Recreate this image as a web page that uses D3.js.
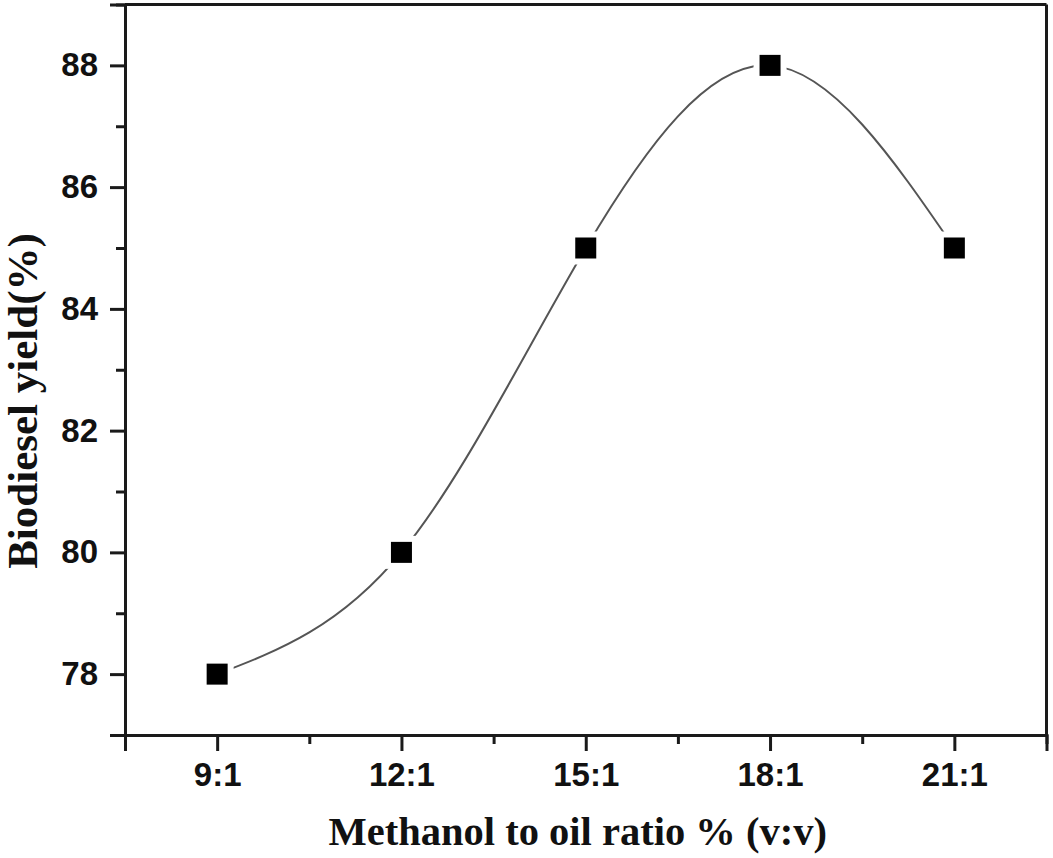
<!DOCTYPE html>
<html>
<head>
<meta charset="utf-8">
<script src="https://cdn.jsdelivr.net/npm/d3@7/dist/d3.min.js"></script>
<style>
  html, body { margin: 0; padding: 0; background: #fff; }
  svg { display: block; }
</style>
</head>
<body>
<svg id="chart" width="1053" height="858"></svg>
<script>
// ---- data ----
const categories = ["9:1", "12:1", "15:1", "18:1", "21:1"];
const ratioValues = [9, 12, 15, 18, 21];
const yieldValues = [78, 80, 85, 88, 85];
const yTickValues = [78, 80, 82, 84, 86, 88];
const yMinorTicks = [77, 79, 81, 83, 85, 87, 89];
const xMinorTicks = [7.5, 10.5, 13.5, 16.5, 19.5, 22.5];
const xTitle = "Methanol to oil ratio % (v:v)";
const yTitle = "Biodiesel yield(%)";

// ---- layout ----
const svg = d3.select("#chart");
const plot = { left: 125, right: 1046.5, top: 4.5, bottom: 735 };

const x = d3.scaleLinear().domain([7.5, 22.5]).range([plot.left, plot.right]);
const y = d3.scaleLinear().domain([77, 89]).range([plot.bottom, plot.top]);

const axisColor = "#1a1a1a";

// frame: top and right
svg.append("line").attr("x1", plot.left).attr("x2", plot.right)
  .attr("y1", plot.top).attr("y2", plot.top)
  .attr("stroke", axisColor).attr("stroke-width", 3);
svg.append("line").attr("x1", plot.right).attr("x2", plot.right)
  .attr("y1", plot.top).attr("y2", plot.bottom)
  .attr("stroke", axisColor).attr("stroke-width", 3);

// y axis major
const yAxis = d3.axisLeft(y).tickValues(yTickValues).tickSize(15).tickPadding(12)
  .tickFormat(d3.format("d"));
const gy = svg.append("g").attr("transform", `translate(${plot.left},0)`).call(yAxis);
gy.select(".domain").attr("stroke", axisColor).attr("stroke-width", 3);
gy.selectAll(".tick line").attr("stroke", axisColor).attr("stroke-width", 3);
gy.selectAll(".tick text").attr("font-family", "'Liberation Sans', Arial, sans-serif")
  .attr("font-weight", "bold").attr("font-size", 33).attr("fill", "#111");
// y minor
const yAxisMinor = d3.axisLeft(y).tickValues(yMinorTicks).tickSize(9).tickFormat("");
const gym = svg.append("g").attr("transform", `translate(${plot.left},0)`).call(yAxisMinor);
gym.select(".domain").remove();
gym.selectAll(".tick line").attr("stroke", axisColor).attr("stroke-width", 3);

// x axis major
const xAxis = d3.axisBottom(x).tickValues(ratioValues).tickSize(16).tickPadding(12)
  .tickFormat((d, i) => categories[i]);
const gx = svg.append("g").attr("transform", `translate(0,${plot.bottom})`).call(xAxis);
gx.select(".domain").attr("stroke", axisColor).attr("stroke-width", 3);
gx.selectAll(".tick line").attr("stroke", axisColor).attr("stroke-width", 3);
gx.selectAll(".tick text").attr("font-family", "'Liberation Sans', Arial, sans-serif")
  .attr("font-weight", "bold").attr("font-size", 33).attr("fill", "#111");
// x minor
const xAxisMinor = d3.axisBottom(x).tickValues(xMinorTicks).tickSize(9).tickFormat("");
const gxm = svg.append("g").attr("transform", `translate(0,${plot.bottom})`).call(xAxisMinor);
gxm.select(".domain").remove();
gxm.selectAll(".tick line").attr("stroke", axisColor).attr("stroke-width", 3);

// line
const pts = ratioValues.map((r, i) => [r, yieldValues[i]]);
const line = d3.line().x(d => x(d[0])).y(d => y(d[1])).curve(d3.curveNatural);
svg.append("path").attr("d", line(pts)).attr("fill", "none")
  .attr("stroke", "#555").attr("stroke-width", 2);

// markers with white gap
const size = 21;
svg.selectAll("rect.gap").data(pts).enter().append("rect")
  .attr("x", d => x(d[0]) - size / 2 - 6).attr("y", d => y(d[1]) - size / 2 - 6)
  .attr("width", size + 12).attr("height", size + 12).attr("fill", "#fff");
svg.selectAll("rect.mark").data(pts).enter().append("rect")
  .attr("x", d => x(d[0]) - size / 2).attr("y", d => y(d[1]) - size / 2)
  .attr("width", size).attr("height", size).attr("fill", "#000");

// titles
svg.append("text").attr("x", (plot.left + plot.right) / 2 - 8).attr("y", 845)
  .attr("text-anchor", "middle")
  .attr("font-family", "'Liberation Serif', 'Times New Roman', serif")
  .attr("font-weight", "bold").attr("font-size", 40.5).attr("fill", "#111")
  .text(xTitle);
svg.append("text").attr("transform", `translate(37,${401}) rotate(-90)`)
  .attr("text-anchor", "middle")
  .attr("font-family", "'Liberation Serif', 'Times New Roman', serif")
  .attr("font-weight", "bold").attr("font-size", 43).attr("fill", "#111")
  .text(yTitle);
</script>
</body>
</html>
